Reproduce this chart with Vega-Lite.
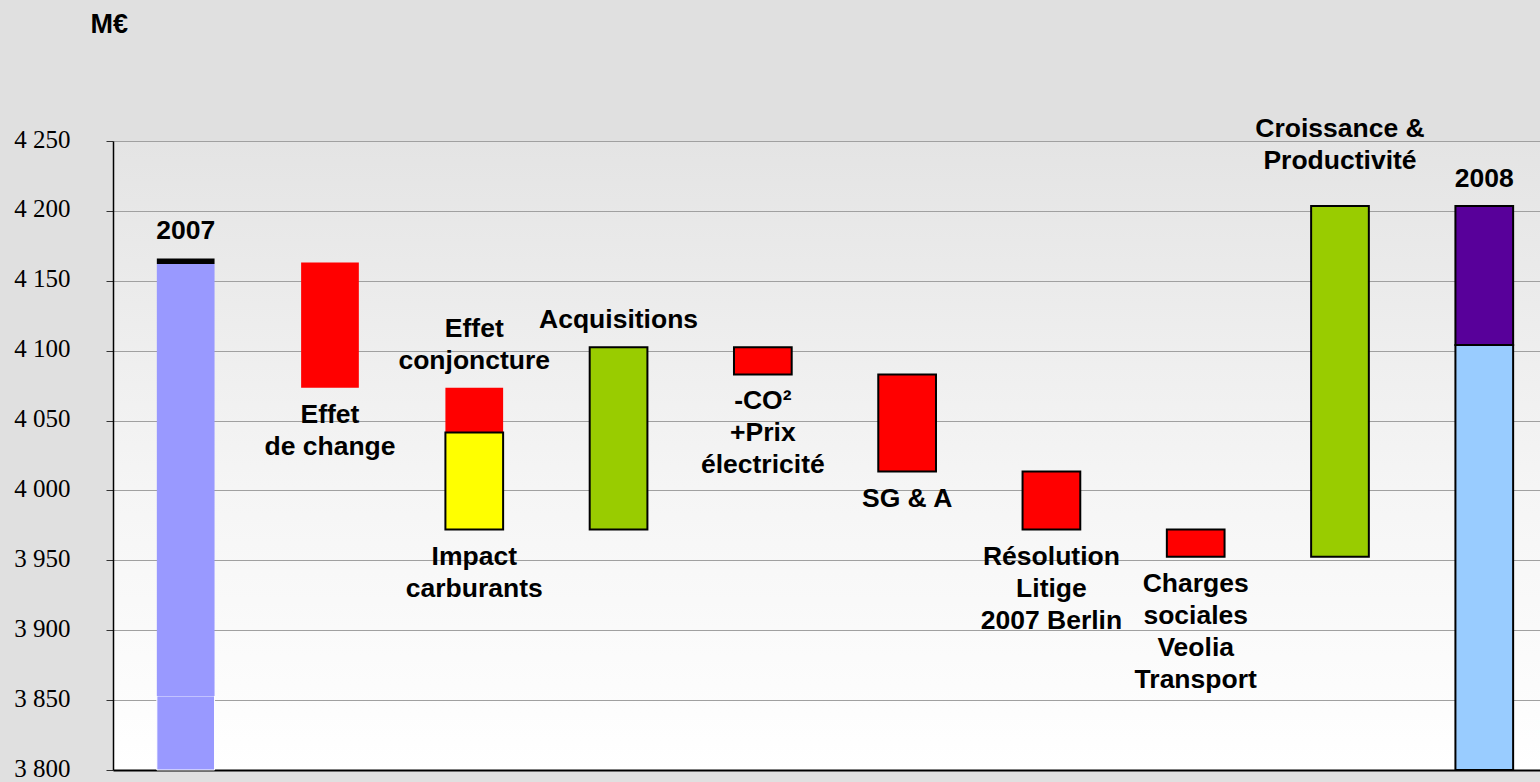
{
  "$schema": "https://vega.github.io/schema/vega-lite/v6.json",
  "width": 1427,
  "height": 629,
  "autosize": {"type": "none"},
  "padding": {"left": 113, "top": 141, "right": 0, "bottom": 12},
  "background": "#e0e0e0",
  "view": {
    "stroke": null,
    "fill": {
      "gradient": "linear",
      "x1": 0, "y1": 0, "x2": 0, "y2": 1,
      "stops": [
        {"offset": 0, "color": "#e4e4e4"},
        {"offset": 0.55, "color": "#f5f5f5"},
        {"offset": 1, "color": "#ffffff"}
      ]
    }
  },
  "config": {
    "font": "Liberation Sans",
    "axis": {"gridColor": "#a0a0a0", "gridWidth": 1, "domainColor": "#000000"}
  },
  "layer": [
    {
      "data": {
        "values": [
          {"cat": "2007", "start": 3800, "end": 3853, "type": "2007 a"},
          {"cat": "2007", "start": 3853, "end": 4162, "type": "2007 b"},
          {"cat": "2007", "start": 4162, "end": 4166, "type": "2007 c"},
          {"cat": "Effet de change", "start": 4163, "end": 4073.5, "type": "Baisse externe"},
          {"cat": "Effet conjoncture", "start": 4073.5, "end": 4041.5, "type": "Baisse externe"},
          {"cat": "Effet conjoncture", "start": 4041.5, "end": 3972, "type": "Carburants"},
          {"cat": "Acquisitions", "start": 3972, "end": 4102.5, "type": "Hausse"},
          {"cat": "CO2 électricité", "start": 4102.5, "end": 4083, "type": "Baisse"},
          {"cat": "SG&A", "start": 4083, "end": 4013.5, "type": "Baisse"},
          {"cat": "Résolution litige", "start": 4013.5, "end": 3972, "type": "Baisse"},
          {"cat": "Charges sociales", "start": 3972, "end": 3952.5, "type": "Baisse"},
          {"cat": "Croissance & Productivité", "start": 3952.5, "end": 4203.5, "type": "Hausse"},
          {"cat": "2008", "start": 3800, "end": 4104, "type": "2008 base"},
          {"cat": "2008", "start": 4104, "end": 4203.5, "type": "2008 variation"}
        ]
      },
      "mark": {"type": "bar", "strokeWidth": 2, "clip": false},
      "encoding": {
        "x": {
          "field": "cat", "type": "nominal", "sort": null,
          "scale": {
            "domain": ["2007", "Effet de change", "Effet conjoncture", "Acquisitions", "CO2 électricité", "SG&A", "Résolution litige", "Charges sociales", "Croissance & Productivité", "2008"],
            "paddingInner": 0.6, "paddingOuter": 0.245, "align": 0.62
          },
          "axis": {"title": null, "labels": false, "ticks": false, "grid": false, "domainColor": "#000000", "domainWidth": 2}
        },
        "y": {
          "field": "start", "type": "quantitative",
          "scale": {"domain": [3800, 4250], "nice": false, "zero": false},
          "axis": {
            "values": [3800, 3850, 3900, 3950, 4000, 4050, 4100, 4150, 4200, 4250],
            "labelExpr": "replace(format(datum.value, ',d'), ',', ' ')",
            "labelFont": "Liberation Sans Narrow",
            "labelFontSize": 25,
            "labelOffset": -2,
            "labelColor": "#000000",
            "labelPadding": 36,
            "tickSize": 7,
            "tickColor": "#333333",
            "domainColor": "#000000",
            "domainWidth": 1.5,
            "grid": true,
            "title": "M€",
            "titleAngle": 0,
            "titleAlign": "left",
            "titleBaseline": "alphabetic",
            "titleX": -23,
            "titleY": -109,
            "titleFontSize": 27,
            "titleFontWeight": "bold",
            "titleColor": "#000000"
          }
        },
        "y2": {"field": "end"},
        "color": {
          "field": "type", "type": "nominal", "legend": null,
          "scale": {
            "domain": ["2007 a", "2007 b", "2007 c", "Baisse externe", "Carburants", "Hausse", "Baisse", "2008 base", "2008 variation"],
            "range": ["#9999ff", "#9999ff", "#000000", "#ff0000", "#ffff00", "#99cc00", "#ff0000", "#99ccff", "#58009a"]
          }
        },
        "stroke": {
          "condition": [
            {"test": "indexof(['Carburants','Hausse','Baisse','2008 base','2008 variation'], datum.type) >= 0", "value": "#000000"},
            {"test": "datum.type === '2007 a'", "value": "#ffffff"}
          ],
          "value": null
        },
        "strokeWidth": {
          "condition": {"test": "datum.type === '2007 a'", "value": 1},
          "value": 2
        }
      }
    },
    {
      "data": {
        "values": [
          {"cat": "2007", "lines": ["2007"], "anchor": 4166, "side": "above"},
          {"cat": "Effet conjoncture", "lines": ["Effet", "conjoncture"], "anchor": 4073.5, "side": "above"},
          {"cat": "Acquisitions", "lines": ["Acquisitions"], "anchor": 4102.5, "side": "above"},
          {"cat": "2008", "lines": ["2008"], "anchor": 4203.5, "side": "above"},
          {"cat": "Croissance & Productivité", "lines": ["Croissance &", "Productivité"], "anchor": 4203.5, "side": "top"},
          {"cat": "Effet de change", "lines": ["Effet", "de change"], "anchor": 4073.5, "side": "below"},
          {"cat": "Effet conjoncture", "lines": ["Impact", "carburants"], "anchor": 3972, "side": "below"},
          {"cat": "CO2 électricité", "lines": ["-CO²", "+Prix", "électricité"], "anchor": 4083, "side": "below"},
          {"cat": "SG&A", "lines": ["SG & A"], "anchor": 4013.5, "side": "below"},
          {"cat": "Résolution litige", "lines": ["Résolution", "Litige", "2007 Berlin"], "anchor": 3972, "side": "below"},
          {"cat": "Charges sociales", "lines": ["Charges", "sociales", "Veolia", "Transport"], "anchor": 3952.5, "side": "below"}
        ]
      },
      "layer": [
        {
          "transform": [{"filter": "datum.side === 'above' && datum.lines.length === 1"}],
          "mark": {"type": "text", "baseline": "bottom", "dy": -13, "fontSize": 26.5, "fontWeight": "bold", "lineHeight": 32, "color": "#000000", "clip": false},
          "encoding": {
            "x": {"field": "cat", "type": "nominal"},
            "y": {"field": "anchor", "type": "quantitative"},
            "text": {"field": "lines"}
          }
        },
        {
          "transform": [{"filter": "datum.side === 'above' && datum.lines.length === 2"}],
          "mark": {"type": "text", "baseline": "bottom", "dy": -45, "fontSize": 26.5, "fontWeight": "bold", "lineHeight": 32, "color": "#000000", "clip": false},
          "encoding": {
            "x": {"field": "cat", "type": "nominal"},
            "y": {"field": "anchor", "type": "quantitative"},
            "text": {"field": "lines"}
          }
        },
        {
          "transform": [{"filter": "datum.side === 'top'"}],
          "mark": {"type": "text", "baseline": "bottom", "dy": -63, "fontSize": 26.5, "fontWeight": "bold", "lineHeight": 32, "color": "#000000", "clip": false},
          "encoding": {
            "x": {"field": "cat", "type": "nominal"},
            "y": {"field": "anchor", "type": "quantitative"},
            "text": {"field": "lines"}
          }
        },
        {
          "transform": [{"filter": "datum.side === 'below'"}],
          "mark": {"type": "text", "baseline": "top", "dy": 14, "fontSize": 26.5, "fontWeight": "bold", "lineHeight": 32, "color": "#000000", "clip": false},
          "encoding": {
            "x": {"field": "cat", "type": "nominal"},
            "y": {"field": "anchor", "type": "quantitative"},
            "text": {"field": "lines"}
          }
        }
      ]
    }
  ]
}
